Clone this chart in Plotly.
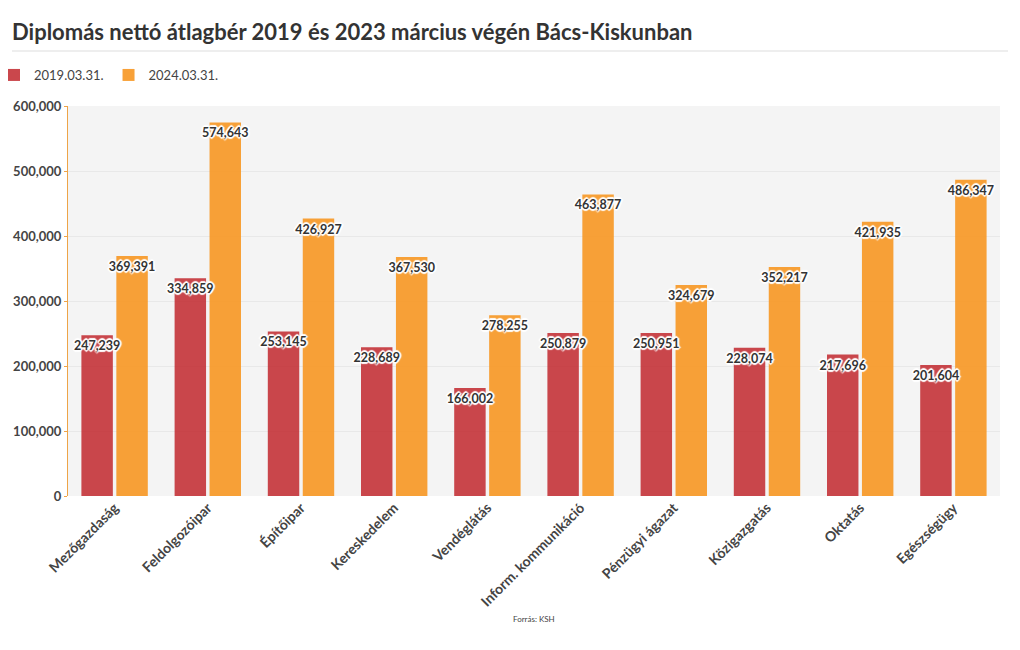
import plotly.graph_objects as go

categories = ["Mezőgazdaság", "Feldolgozóipar", "Építőipar", "Kereskedelem", "Vendéglátás",
              "Inform. kommunikáció", "Pénzügyi ágazat", "Közigazgatás", "Oktatás", "Egészségügy"]
values_2019 = [247239, 334859, 253145, 228689, 166002, 250879, 250951, 228074, 217696, 201604]
values_2024 = [369391, 574643, 426927, 367530, 278255, 463877, 324679, 352217, 421935, 486347]
series_names = ["2019.03.31.", "2024.03.31."]
y_ticks = [0, 100000, 200000, 300000, 400000, 500000, 600000]

FONT = "Lato, 'Source Sans Pro', 'Noto Sans', sans-serif"
shadow = ("1px 1px 1px #fff, -1px -1px 1px #fff, 1px -1px 1px #fff, -1px 1px 1px #fff, "
          "0 2px 1px #fff, 0 -2px 1px #fff, 2px 0 1px #fff, -2px 0 1px #fff")

# page body has an 8px margin: figure coordinates are screen coordinates minus 8
W, H = 1012, 642
L, R, T, B = 60, 20, 98, 154
PW, PH = W - L - R, H - T - B


def fmt(v):
    return f"{v:,}"


series = [(series_names[0], values_2019, "rgba(193,39,45,0.85)"),
          (series_names[1], values_2024, "rgba(247,148,29,0.88)")]

fig = go.Figure()
# visible bars
for i, (name, vals, col) in enumerate(series):
    fig.add_trace(go.Bar(
        name=name, x=categories, y=vals, offsetgroup=str(i),
        marker=dict(color=col, line=dict(width=0)),
        hoverinfo="x+y",
    ))
# transparent copies carrying the value labels, drawn above all bars
for i, (name, vals, col) in enumerate(series):
    fig.add_trace(go.Bar(
        name=name, x=categories, y=vals, offsetgroup=str(i),
        marker=dict(color="rgba(0,0,0,0)", line=dict(width=0)),
        text=[fmt(v) for v in vals],
        textposition="inside", insidetextanchor="end", textangle=0,
        constraintext="none", cliponaxis=False,
        textfont=dict(family=FONT, size=12.5, color="#333333", weight="bold", shadow=shadow),
        showlegend=False, hoverinfo="skip",
    ))

fig.update_layout(
    width=W, height=H,
    margin=dict(l=L, r=R, t=T, b=B, autoexpand=False),
    paper_bgcolor="white", plot_bgcolor="#f4f4f4",
    barmode="group", bargap=0.25, bargroupgap=0.1,
    font=dict(family=FONT, color="#444444"),
    title=dict(text="<b>Diplomás nettó átlagbér 2019 és 2023 március végén Bács-Kiskunban</b>",
               xref="container", x=4 / W, xanchor="left", y=1 - 24 / H, yanchor="middle",
               font=dict(family=FONT, size=22, color="#333333")),
    legend=dict(orientation="h", xref="paper", yref="paper", x=(-14 - L) / PW, xanchor="left",
                y=(T + PH - 67) / PH, yanchor="middle",
                font=dict(family=FONT, size=13, color="#444444"),
                itemwidth=30, traceorder="normal"),
    xaxis=dict(tickangle=-45, tickfont=dict(family=FONT, size=14, color="#444444", weight="bold"),
               showgrid=False, ticks="", showline=False, automargin=False),
    yaxis=dict(range=[0, 600000], tickvals=y_ticks, tickformat=",",
               tickfont=dict(family=FONT, size=13, color="#444444", weight="bold"),
               showgrid=True, gridcolor="#e8e8e8", gridwidth=1,
               showline=True, linecolor="#eea447", linewidth=1, automargin=False,
               ticks="outside", tickcolor="#eea447", ticklen=3,
               zeroline=False),
    shapes=[dict(type="line", xref="paper", yref="paper", x0=(4 - L) / PW, x1=(1000 - L) / PW,
                 y0=(T + PH - 43) / PH, y1=(T + PH - 43) / PH, line=dict(color="#dddddd", width=1))],
    annotations=[dict(text="Forrás: KSH", xref="paper", yref="paper", x=0.5, y=(T + PH - 618) / PH,
                      showarrow=False, font=dict(family=FONT, size=8, color="#444444"))],
)

fig.write_html("out.html")
